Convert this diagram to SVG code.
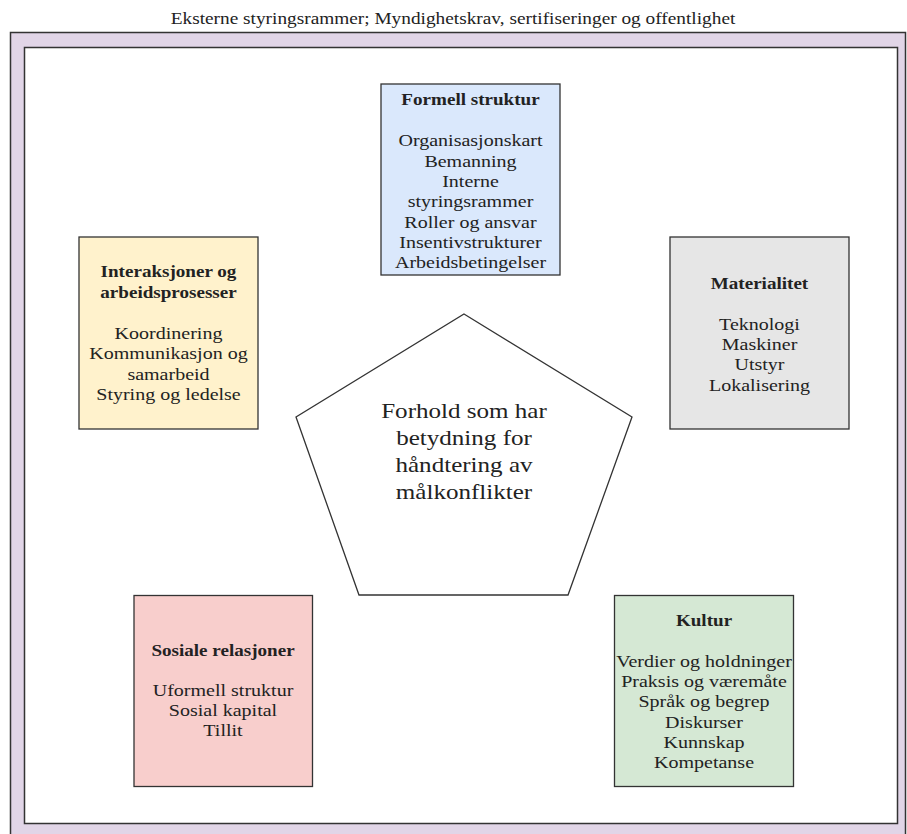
<svg xmlns="http://www.w3.org/2000/svg" width="907" height="834" viewBox="0 0 907 834">
  <style>
    text { font-family: "Liberation Serif", "Times New Roman", serif; fill: #222; text-anchor: middle; }
    .title { font-size: 16.8px; }
    .head { font-size: 16.6px; font-weight: bold; }
    .item { font-size: 17.4px; }
    .core { font-size: 21.8px; }
    .box { stroke: #333; stroke-width: 1.3; }
  </style>

  <!-- external frame -->
  <g id="frame">
    <g transform="translate(453,0) scale(1.15,1)">
      <text class="title" x="0" y="24">Eksterne styringsrammer; Myndighetskrav, sertifiseringer og offentlighet</text>
    </g>
    <rect x="10.5" y="32.5" width="895" height="820" fill="#e1d5e7" stroke="#333" stroke-width="1.5"/>
    <rect x="24.5" y="47.5" width="873" height="776" fill="#ffffff" stroke="#333" stroke-width="1.5"/>
  </g>

  <!-- centre pentagon -->
  <g id="core">
    <polygon points="464,314 632,417 568,595 359,595 296,417" fill="#ffffff" stroke="#333" stroke-width="1.3"/>
    <g transform="translate(464,0) scale(1.15,1)">
      <text class="core" x="0" y="418">Forhold som har</text>
      <text class="core" x="0" y="445">betydning for</text>
      <text class="core" x="0" y="472">håndtering av</text>
      <text class="core" x="0" y="499">målkonflikter</text>
    </g>
  </g>

  <g id="formell">
    <rect class="box" x="381" y="84" width="179" height="191" fill="#dae8fc"/>
    <g transform="translate(470.5,0) scale(1.15,1)">
      <text class="head" x="0" y="105">Formell struktur</text>
      <text class="item" x="0" y="146.5">Organisasjonskart</text>
      <text class="item" x="0" y="166.8">Bemanning</text>
      <text class="item" x="0" y="187.1">Interne</text>
      <text class="item" x="0" y="207.4">styringsrammer</text>
      <text class="item" x="0" y="227.7">Roller og ansvar</text>
      <text class="item" x="0" y="248">Insentivstrukturer</text>
      <text class="item" x="0" y="268.3">Arbeidsbetingelser</text>
    </g>
  </g>

  <g id="interaksjoner">
    <rect class="box" x="79" y="237" width="179" height="192" fill="#fff2cc"/>
    <g transform="translate(168.5,0) scale(1.15,1)">
      <text class="head" x="0" y="277">Interaksjoner og</text>
      <text class="head" x="0" y="298">arbeidsprosesser</text>
      <text class="item" x="0" y="339">Koordinering</text>
      <text class="item" x="0" y="359.5">Kommunikasjon og</text>
      <text class="item" x="0" y="380">samarbeid</text>
      <text class="item" x="0" y="400.5">Styring og ledelse</text>
    </g>
  </g>

  <g id="materialitet">
    <rect class="box" x="670" y="237" width="179" height="192" fill="#e6e6e6"/>
    <g transform="translate(759.5,0) scale(1.15,1)">
      <text class="head" x="0" y="289">Materialitet</text>
      <text class="item" x="0" y="330">Teknologi</text>
      <text class="item" x="0" y="350">Maskiner</text>
      <text class="item" x="0" y="370.3">Utstyr</text>
      <text class="item" x="0" y="390.6">Lokalisering</text>
    </g>
  </g>

  <g id="sosiale">
    <rect class="box" x="134" y="595.5" width="178.5" height="191" fill="#f8cecc"/>
    <g transform="translate(223,0) scale(1.15,1)">
      <text class="head" x="0" y="656.5">Sosiale relasjoner</text>
      <text class="item" x="0" y="696.5">Uformell struktur</text>
      <text class="item" x="0" y="716.5">Sosial kapital</text>
      <text class="item" x="0" y="736.5">Tillit</text>
    </g>
  </g>

  <g id="kultur">
    <rect class="box" x="614.5" y="595.5" width="179" height="191" fill="#d5e8d4"/>
    <g transform="translate(704,0) scale(1.15,1)">
      <text class="head" x="0" y="626">Kultur</text>
      <text class="item" x="0" y="667">Verdier og holdninger</text>
      <text class="item" x="0" y="687.2">Praksis og væremåte</text>
      <text class="item" x="0" y="707.4">Språk og begrep</text>
      <text class="item" x="0" y="727.6">Diskurser</text>
      <text class="item" x="0" y="747.8">Kunnskap</text>
      <text class="item" x="0" y="768">Kompetanse</text>
    </g>
  </g>
</svg>
